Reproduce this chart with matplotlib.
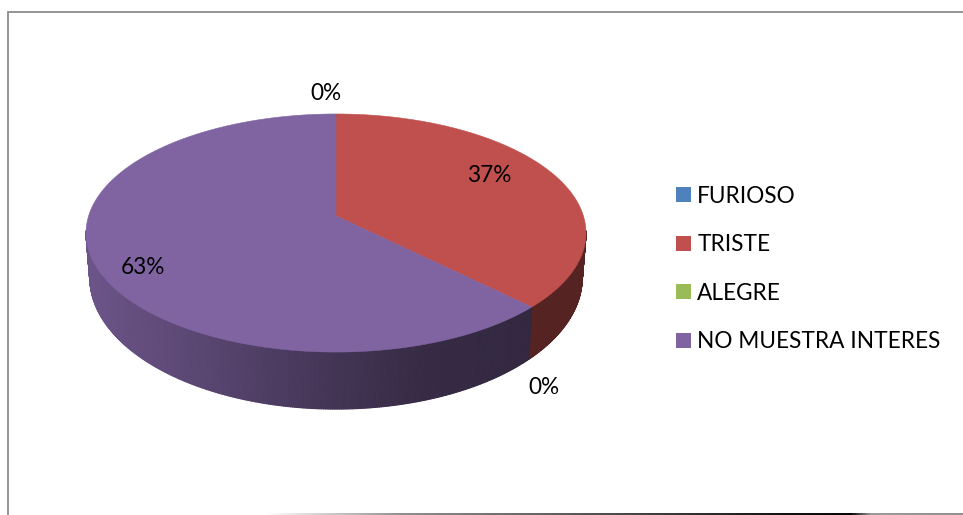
import numpy as np
import matplotlib
matplotlib.use('Agg')
import matplotlib.pyplot as plt
from matplotlib.collections import PolyCollection, LineCollection
from matplotlib.colors import to_rgb
from matplotlib.patches import Patch, Polygon

categories = ['FURIOSO', 'TRISTE', 'ALEGRE', 'NO MUESTRA INTERES']
values = [0, 37.4, 0, 62.6]
colors = ['#4F81BD', '#C0504D', '#9BBB59', '#8064A2']
label_pos = [(326, 94), (489, 176), (544, 388), (143, 268)]

plt.rcParams['font.family'] = ['Lato', 'DejaVu Sans']

W, H = 963, 515
APEX_X, APEX_Y = 336, 216


def rim(theta):
    """edge of the pie, a circle seen in perspective (pixels from apex)"""
    den = 1 + 0.1429 * np.cos(theta)
    return 247.4 * np.sin(theta) / den, -116.6 * np.cos(theta) / den


def rim_top(theta):
    # theta is clockwise from 12 o'clock
    x, y = rim(theta)
    return APEX_X + x, APEX_Y + y


def rim_bottom(theta):
    x, y = rim(theta)
    return APEX_X + 0.985 * x, APEX_Y + 1.106 * y + 42.6


def side_shade(x):
    # side gets darker going right
    return np.interp(x, [88, 200, 336, 430, 530, 590], [0.84, 0.70, 0.52, 0.42, 0.40, 0.40])


fig = plt.figure(figsize=(W / 100, H / 100), dpi=100)
ax = fig.add_axes([0, 0, 1, 1])
ax.set_xlim(0, W)
ax.set_ylim(H, 0)
ax.axis('off')

# frame
ax.plot([8, 8, W], [H, 12, 12], color='#8c8c8c', lw=1.3, solid_joinstyle='miter')
xs = np.linspace(265, W, 300)
grey = np.interp(xs, [265, 400, 560, 780, 850, 870, W], [1.0, 0.55, 0.35, 0.05, 0.0, 0.6, 0.55])
pts = np.column_stack([xs, np.full_like(xs, 514)])
segs = np.stack([pts[:-1], pts[1:]], axis=1)
ax.add_collection(LineCollection(segs, colors=[(g, g, g) for g in grey[:-1]], linewidths=1.4))

# slices
total = sum(values)
starts = np.cumsum([0] + values[:-1]) / total * 2 * np.pi
ends = np.cumsum(values) / total * 2 * np.pi

# side wall first, only the part that faces us
for start, end, col in zip(starts, ends, colors):
    if end <= start:
        continue
    th = np.linspace(start, end, 500)
    th = th[np.cos(th) < -0.12]
    if len(th) < 2:
        continue
    polys, cols = [], []
    base = np.array(to_rgb(col))
    boost = 1.1 if col == '#C0504D' else 1.0
    for a, b in zip(th[:-1], th[1:]):
        xa, ya = rim_top(a)
        xb, yb = rim_top(b)
        xc, yc = rim_bottom(b)
        xd, yd = rim_bottom(a)
        polys.append([(xa, ya), (xb, yb), (xc, yc), (xd, yd)])
        s = side_shade((xa + xb) / 2)
        cols.append(base * s * boost)
    ax.add_collection(PolyCollection(polys, facecolors=cols, edgecolors=cols, linewidths=0.8))

# top face
for start, end, col in zip(starts, ends, colors):
    if end <= start:
        continue
    th = np.linspace(start, end, 400)
    x, y = rim_top(th)
    ax.add_patch(Polygon(np.column_stack([np.r_[APEX_X, x], np.r_[APEX_Y, y]]),
                         closed=True, facecolor=col, edgecolor=col, lw=0.4))

# percent labels
for v, (lx, ly) in zip(values, label_pos):
    ax.text(lx, ly, '%d%%' % round(v / total * 100), fontsize=16.3, color='black',
            ha='center', va='center')

handles = [Patch(facecolor=c, edgecolor='none') for c in colors]
ax.legend(handles, categories, loc='center left', bbox_to_anchor=(676 / W, 1 - 269 / H),
          frameon=False, fontsize=16.3, labelspacing=1.22, handlelength=0.66,
          handleheight=0.66, handletextpad=0.28, borderpad=0, borderaxespad=0,
          labelcolor='black')

fig.savefig('out.png', dpi=100)
